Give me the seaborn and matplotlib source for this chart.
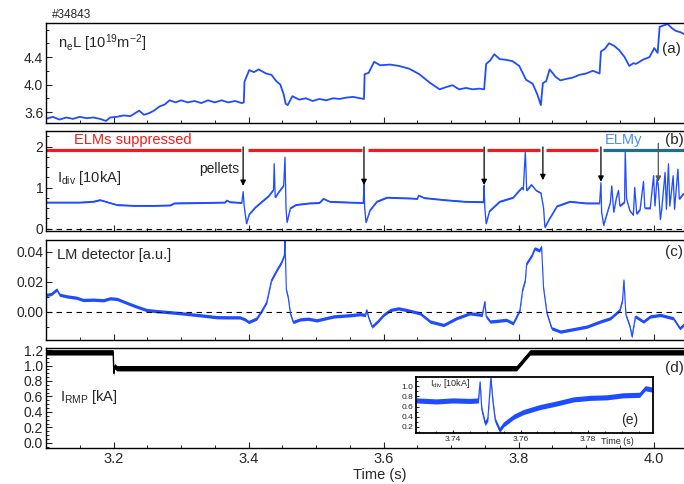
import numpy as np
import matplotlib
matplotlib.use("Agg")
import matplotlib.pyplot as plt
from matplotlib.ticker import MultipleLocator, FixedLocator, FormatStrFormatter
import seaborn as sns

sns.set_theme(style="white")
plt.rcParams["font.family"] = ["Liberation Sans", "DejaVu Sans"]
plt.rcParams["mathtext.fontset"] = "custom"
plt.rcParams["mathtext.rm"] = "Liberation Sans"
plt.rcParams["mathtext.it"] = "Liberation Sans:italic"
plt.rcParams["mathtext.bf"] = "Liberation Sans:bold"
plt.rcParams["mathtext.default"] = "regular"
plt.rcParams["axes.edgecolor"] = "black"

# ---------------- data ----------------
shot = "#34843"

# (a) line-integrated density
dens_t = [3.100, 3.110, 3.120, 3.130, 3.140, 3.150, 3.160, 3.170, 3.180, 3.189, 3.195, 3.205,
          3.215, 3.225, 3.238, 3.245, 3.252, 3.260, 3.268, 3.276, 3.283, 3.292, 3.300, 3.310,
          3.320, 3.330, 3.340, 3.350, 3.360, 3.370, 3.380, 3.390, 3.393, 3.394, 3.401, 3.408,
          3.415, 3.426, 3.434, 3.441, 3.447, 3.452, 3.455, 3.458, 3.465, 3.475, 3.485, 3.495,
          3.505, 3.515, 3.525, 3.535, 3.545, 3.555, 3.565, 3.571, 3.572, 3.578, 3.586, 3.595,
          3.610, 3.623, 3.638, 3.653, 3.668, 3.683, 3.692, 3.702, 3.712, 3.722, 3.732, 3.742,
          3.749, 3.752, 3.758, 3.764, 3.772, 3.781, 3.791, 3.801, 3.811, 3.821, 3.828, 3.833,
          3.836, 3.841, 3.846, 3.855, 3.862, 3.870, 3.880, 3.890, 3.900, 3.910, 3.920, 3.922,
          3.928, 3.934, 3.942, 3.949, 3.957, 3.964, 3.970, 3.974, 3.984, 3.994, 4.001, 4.006,
          4.009, 4.015, 4.021, 4.027, 4.033, 4.040, 4.048]
dens_v = [3.50, 3.53, 3.49, 3.52, 3.50, 3.53, 3.51, 3.52, 3.50, 3.47, 3.52, 3.53,
          3.55, 3.54, 3.62, 3.56, 3.58, 3.62, 3.68, 3.71, 3.77, 3.74, 3.77, 3.74,
          3.76, 3.73, 3.77, 3.74, 3.77, 3.74, 3.76, 3.73, 3.74, 4.04, 4.21, 4.18,
          4.22, 4.16, 4.14, 4.05, 4.00, 3.86, 3.72, 3.70, 3.83, 3.78, 3.80, 3.76,
          3.79, 3.77, 3.80, 3.79, 3.81, 3.82, 3.80, 3.79, 4.15, 4.17, 4.33, 4.28,
          4.29, 4.27, 4.23, 4.15, 4.03, 3.93, 3.96, 3.99, 3.93, 3.95, 3.93, 3.94,
          3.93, 4.30, 4.35, 4.44, 4.37, 4.36, 4.34, 4.27, 4.07, 4.01, 3.85, 3.70,
          4.02, 4.05, 4.22, 4.11, 4.06, 4.08, 4.10, 4.14, 4.16, 4.20, 4.16, 4.48,
          4.52, 4.60, 4.56, 4.50, 4.40, 4.27, 4.31, 4.30, 4.36, 4.40, 4.53, 4.46,
          4.84, 4.86, 4.88, 4.82, 4.78, 4.76, 4.72]

# (b) divertor current
div_t = [3.100, 3.150, 3.170, 3.180, 3.190, 3.205, 3.230, 3.260, 3.284, 3.290, 3.330, 3.365,
         3.368, 3.372, 3.390, 3.392, 3.3935, 3.397, 3.401, 3.410, 3.420, 3.430, 3.437, 3.438,
         3.4395, 3.445, 3.452, 3.454, 3.4555, 3.457, 3.462, 3.470, 3.490, 3.505, 3.511, 3.520,
         3.550, 3.570, 3.571, 3.572, 3.574, 3.580, 3.590, 3.605, 3.640, 3.650, 3.652, 3.660,
         3.690, 3.720, 3.748, 3.749, 3.750, 3.752, 3.757, 3.772, 3.792, 3.801, 3.805, 3.807,
         3.810, 3.812, 3.819, 3.826, 3.833, 3.837, 3.839, 3.845, 3.857, 3.876, 3.900, 3.920,
         3.922, 3.923, 3.926, 3.931, 3.936, 3.938, 3.941, 3.945, 3.948, 3.950, 3.957, 3.958,
         3.960, 3.965, 3.970, 3.972, 3.975, 3.980, 3.985, 3.987, 3.995, 4.000, 4.002, 4.005,
         4.007, 4.010, 4.012, 4.017, 4.019, 4.022, 4.024, 4.029, 4.031, 4.036, 4.038, 4.044,
         4.048]
div_v = [0.64, 0.64, 0.66, 0.70, 0.65, 0.58, 0.56, 0.56, 0.57, 0.62, 0.63, 0.64,
         0.69, 0.65, 0.63, 0.90, 0.55, 0.12, 0.35, 0.52, 0.66, 0.80, 0.95, 1.58,
         0.76, 0.90, 1.05, 1.74, 0.50, 0.15, 0.50, 0.58, 0.62, 0.63, 0.73, 0.66,
         0.64, 0.63, 1.15, 0.50, 0.15, 0.45, 0.66, 0.76, 0.74, 0.73, 0.81, 0.75,
         0.70, 0.66, 0.65, 1.05, 0.50, 0.12, 0.43, 0.66, 0.76, 0.93, 1.00, 0.95,
         1.88, 0.93, 1.07, 0.93, 0.87, 0.50, 0.03, 0.22, 0.55, 0.66, 0.62, 0.62,
         1.12, 0.40, 0.08, 0.37, 0.64, 1.04, 0.40, 0.76, 0.93, 0.55, 0.65, 1.90,
         0.72, 0.43, 0.33, 1.00, 0.36, 0.47, 1.15, 0.50, 0.50, 1.29, 0.55, 1.20,
         1.05, 0.22, 0.47, 1.37, 0.47, 1.58, 0.55, 1.29, 0.47, 1.45, 0.72, 0.85,
         0.80]
div_noise = 0.02

pellet_t = [3.392, 3.571, 3.749, 3.836, 3.922, 4.007]
pellet_tip = [1.04, 1.06, 1.06, 1.18, 1.14, 1.14]

supp_start = [3.100, 3.399, 3.577, 3.753, 3.841]
supp_end = [3.389, 3.568, 3.747, 3.832, 3.918]
elmy_span = [3.925, 4.048]
phase_level = 1.91

# (c) locked-mode detector
lm_t = [3.100, 3.108, 3.116, 3.120, 3.131, 3.145, 3.155, 3.170, 3.185, 3.195, 3.205, 3.220,
        3.234, 3.249, 3.265, 3.279, 3.303, 3.328, 3.353, 3.370, 3.387, 3.395, 3.400, 3.412,
        3.420, 3.427, 3.434, 3.442, 3.449, 3.453, 3.454, 3.456, 3.459, 3.462, 3.466, 3.476,
        3.488, 3.501, 3.526, 3.550, 3.565, 3.573, 3.575, 3.578, 3.583, 3.592, 3.600, 3.610,
        3.622, 3.634, 3.654, 3.669, 3.689, 3.708, 3.728, 3.746, 3.750, 3.752, 3.758, 3.782,
        3.792, 3.802, 3.806, 3.810, 3.812, 3.820, 3.824, 3.831, 3.834, 3.837, 3.842, 3.849,
        3.862, 3.881, 3.901, 3.921, 3.936, 3.950, 3.954, 3.956, 3.959, 3.965, 3.968, 3.973,
        3.985, 3.995, 4.010, 4.029, 4.039, 4.044, 4.048]
lm_v = [0.0113, 0.0120, 0.0150, 0.0115, 0.0104, 0.0095, 0.0080, 0.0082, 0.0078, 0.0091, 0.0087, 0.0060,
        0.0036, 0.0013, 0.0005, 0.0000, -0.0010, -0.0022, -0.0035, -0.0036, -0.0036, -0.0050, -0.0067, -0.0044,
        0.0011, 0.0067, 0.0213, 0.0280, 0.0333, 0.0378, 0.0480, 0.0147, 0.0090, -0.0011, -0.0067, -0.0050,
        -0.0045, -0.0056, -0.0030, -0.0022, -0.0015, -0.0020, 0.0013, -0.0040, -0.0098, -0.0060, -0.0020, 0.0013,
        0.0024, 0.0013, -0.0009, -0.0064, -0.0087, -0.0042, -0.0009, -0.0020, 0.0069, -0.0030, -0.0064, -0.0053,
        -0.0076, 0.0013, 0.0150, 0.0213, 0.0324, 0.0380, 0.0424, 0.0410, 0.0436, 0.0158, -0.0009, -0.0109,
        -0.0131, -0.0115, -0.0098, -0.0064, -0.0042, 0.0013, 0.0080, 0.0213, -0.0020, -0.0098, -0.0164, -0.0030,
        -0.0064, -0.0030, -0.0020, -0.0042, -0.0109, -0.0087, -0.0070]
lm_noise = 0.0011

# (d) RMP coil current
rmp_t = [3.100, 3.1995, 3.2005, 3.2015, 3.205, 3.797, 3.817, 4.048]
rmp_v = [1.17, 1.17, 0.90, 0.99, 0.965, 0.965, 1.17, 1.17]
rmp_noise = 0.035

# (e) zoom on divertor current around the 3.749 s pellet
e_t = [3.729, 3.735, 3.740, 3.745, 3.7475, 3.748, 3.7485, 3.7495, 3.7503, 3.7512, 3.7518, 3.7525,
       3.7538, 3.755, 3.758, 3.7608, 3.7658, 3.7707, 3.7757, 3.7806, 3.7855, 3.7904, 3.7953,
       3.797, 3.7993]
e_v = [0.72, 0.70, 0.72, 0.71, 0.72, 1.08, 0.55, 0.27, 0.36, 1.16, 0.71, 0.33,
       0.14, 0.25, 0.40, 0.49, 0.59, 0.66, 0.74, 0.77, 0.78, 0.82, 0.83,
       0.96, 0.93]
e_noise = 0.05

time_ticks = [3.2, 3.4, 3.6, 3.8, 4.0]

# ---------------- styling ----------------
BLUE = "#1f4cff"
RED = "#ee1c1c"
TEAL = "#1b6f91"
W, H = 684, 484

fig = plt.figure(figsize=(W / 100, H / 100), dpi=100)


def box(x0, y0, x1, y1):
    return [x0 / W, 1 - y1 / H, (x1 - x0) / W, (y1 - y0) / H]


def trace(ax, t, v, noise=None, color=BLUE, lw=1.0):
    t = np.asarray(t)
    v = np.asarray(v)
    if noise:
        ax.fill_between(t, v - noise, v + noise, color=color, lw=0)
    sns.lineplot(x=t, y=v, ax=ax, color=color, lw=lw, estimator=None,
                 sort=False, legend=False)


def style(ax, labels=False, size=10):
    ax.tick_params(which="both", direction="in", top=False, right=False,
                   left=True, bottom=True, labelsize=size, pad=2)
    ax.tick_params(which="major", length=4, width=0.8)
    ax.tick_params(which="minor", length=2.5, width=0.7)
    for s in ax.spines.values():
        s.set_linewidth(1.0)
        s.set_color("black")
    if not labels:
        ax.tick_params(axis="x", labelbottom=False)
    ax.set_xlabel("")
    ax.set_ylabel("")


ax_a = fig.add_axes(box(46, 23, 686, 123))
ax_b = fig.add_axes(box(46, 131, 686, 231))
ax_c = fig.add_axes(box(46, 240, 686, 340))
ax_d = fig.add_axes(box(46, 348, 686, 448))

for ax in (ax_a, ax_b, ax_c, ax_d):
    ax.set_xlim(3.1, 4.048)
    ax.xaxis.set_major_locator(FixedLocator(time_ticks))
    ax.xaxis.set_minor_locator(MultipleLocator(0.05))

# (a)
trace(ax_a, dens_t, dens_v, lw=1.3)
ax_a.set_ylim(3.44, 4.895)
ax_a.yaxis.set_major_locator(FixedLocator([3.6, 4.0, 4.4]))
ax_a.yaxis.set_minor_locator(FixedLocator([3.8, 4.2, 4.6, 4.8]))
ax_a.yaxis.set_major_formatter(FormatStrFormatter("%.1f"))
style(ax_a)
ax_a.text(0.019, 0.80, r"n$_{e}$L [10$^{19}$m$^{-2}$]", transform=ax_a.transAxes,
          fontsize=10.5, va="center")
ax_a.text(0.9625, 0.737, "(a)", transform=ax_a.transAxes, fontsize=11, va="center")
fig.text(52 / W, 1 - 15 / H, shot, fontsize=8.5, va="center")

# (b)
ax_b.axhline(0, color="black", lw=0.8, ls=(0, (5, 4)))
trace(ax_b, div_t, div_v, noise=div_noise, lw=0.9)
ax_b.hlines([phase_level] * len(supp_start), supp_start, supp_end, color=RED, lw=2.3)
ax_b.hlines(phase_level, elmy_span[0], elmy_span[1], color=TEAL, lw=2.3)
for i, (tp, tip) in enumerate(zip(pellet_t, pellet_tip)):
    last = i == len(pellet_t) - 1
    ax_b.annotate("", xy=(tp, tip), xytext=(tp, 2.08 if last else 1.99),
                  arrowprops=dict(arrowstyle="-|>", color="#555555" if last else "black",
                                  lw=0.9, mutation_scale=8, shrinkA=0, shrinkB=0))
ax_b.set_ylim(-0.06, 2.38)
ax_b.yaxis.set_major_locator(FixedLocator([0, 1, 2]))
ax_b.yaxis.set_minor_locator(MultipleLocator(0.25))
style(ax_b)
ax_b.text(3.1415, 0.91, "ELMs suppressed", transform=ax_b.get_xaxis_transform(),
          color=RED, fontsize=10.5, va="center")
ax_b.text(3.927, 0.91, "ELMy", transform=ax_b.get_xaxis_transform(),
          color="#4a8ef0", fontsize=10.5, va="center")
ax_b.text(3.386, 0.62, "pellets", transform=ax_b.get_xaxis_transform(),
          fontsize=10, ha="right", va="center")
ax_b.text(0.017, 0.53, r"I$_{div}$ [10kA]", transform=ax_b.transAxes,
          fontsize=10.5, va="center")
ax_b.text(0.967, 0.91, "(b)", transform=ax_b.transAxes, fontsize=11, va="center")

# (c)
ax_c.axhline(0, color="black", lw=0.8, ls=(0, (5, 4)))
trace(ax_c, lm_t, lm_v, noise=lm_noise, lw=0.8)
ax_c.set_ylim(-0.0187, 0.048)
ax_c.yaxis.set_major_locator(FixedLocator([0.0, 0.02, 0.04]))
ax_c.yaxis.set_minor_locator(MultipleLocator(0.01))
ax_c.yaxis.set_major_formatter(FormatStrFormatter("%.2f"))
style(ax_c)
ax_c.text(0.017, 0.85, "LM detector [a.u.]", transform=ax_c.transAxes,
          fontsize=10.5, va="center")
ax_c.text(0.967, 0.883, "(c)", transform=ax_c.transAxes, fontsize=11, va="center")

# (d)
trace(ax_d, rmp_t, rmp_v, noise=rmp_noise, color="black", lw=1.0)
ax_d.set_ylim(-0.065, 1.226)
ax_d.yaxis.set_major_locator(MultipleLocator(0.2))
ax_d.yaxis.set_minor_locator(MultipleLocator(0.05))
ax_d.yaxis.set_major_formatter(FormatStrFormatter("%.1f"))
style(ax_d, labels=True)
ax_d.xaxis.set_major_formatter(FormatStrFormatter("%.1f"))
ax_d.tick_params(axis="x", labelsize=10.5, pad=3)
ax_d.text(0.522, -0.265, "Time (s)", transform=ax_d.transAxes, fontsize=10.5,
          ha="center", va="center")
ax_d.text(0.022, 0.51, r"I$_{RMP}$ [kA]", transform=ax_d.transAxes,
          fontsize=10.5, va="center")
ax_d.text(0.967, 0.797, "(d)", transform=ax_d.transAxes, fontsize=11, va="center")

# (e) inset
ax_e = fig.add_axes(box(416, 377, 653, 433))
trace(ax_e, e_t, e_v, noise=e_noise, lw=0.8)
ax_e.set_xlim(3.729, 3.7993)
ax_e.set_ylim(0.08, 1.18)
ax_e.xaxis.set_major_locator(FixedLocator([3.74, 3.76, 3.78]))
ax_e.xaxis.set_minor_locator(MultipleLocator(0.005))
ax_e.xaxis.set_major_formatter(FormatStrFormatter("%.2f"))
ax_e.yaxis.set_major_locator(MultipleLocator(0.2))
ax_e.yaxis.set_minor_locator(MultipleLocator(0.1))
ax_e.yaxis.set_major_formatter(FormatStrFormatter("%.1f"))
style(ax_e, labels=True, size=6)
ax_e.tick_params(which="major", length=2.5)
ax_e.tick_params(which="minor", length=1.5)
for s in ax_e.spines.values():
    s.set_linewidth(1.3)
ax_e.text(0.06, 0.89, r"I$_{div}$ [10kA]", transform=ax_e.transAxes,
          fontsize=6.5, va="center")
ax_e.text(0.848, -0.15, "Time (s)", transform=ax_e.transAxes, fontsize=6.5,
          ha="center", va="center")
ax_e.text(0.90, 0.23, "(e)", transform=ax_e.transAxes, fontsize=10,
          ha="center", va="center")

fig.savefig("out.png", dpi=100)
